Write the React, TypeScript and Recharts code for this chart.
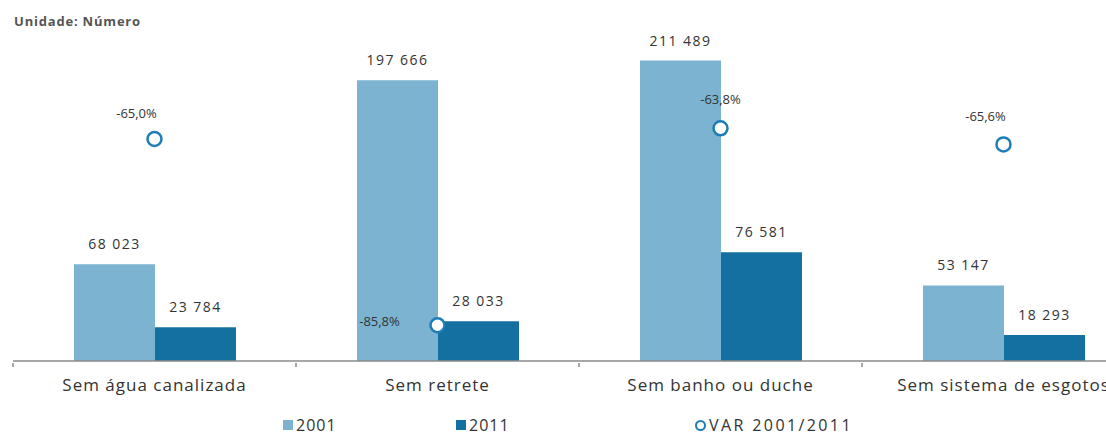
import React from 'react';
import { ComposedChart, Bar, Line, XAxis, YAxis, LabelList, Legend } from 'recharts';

const categories = ['Sem água canalizada', 'Sem retrete', 'Sem banho ou duche', 'Sem sistema de esgotos'];
const values2001 = [68023, 197666, 211489, 53147];
const values2011 = [23784, 28033, 76581, 18293];
const varPct = [-65.0, -85.8, -63.8, -65.6];

const data = categories.map((name, i) => ({
  name,
  y2001: values2001[i],
  y2011: values2011[i],
  varPct: varPct[i],
}));

const C2001 = '#7bb3d0';
const C2011 = '#1570a2';
const CVAR = '#1f7db6';
const TEXT = '#333';
const FONT = '"Open Sans", sans-serif';

const fmtNum = (v: number) => String(v).replace(/\B(?=(\d{3})+(?!\d))/g, ' ');
const fmtPct = (v: number) => v.toFixed(1).replace('.', ',') + '%';

// label placement around each VAR marker
const varLabelShift = [
  { dx: -18, dy: -25 },
  { dx: -58, dy: -3 },
  { dx: 0, dy: -28 },
  { dx: -18, dy: -27 },
];

const CategoryTick = (props: any) => {
  const { x, y, payload, index, visibleTicksCount } = props;
  const half = payload.offset || 0;
  return (
    <g>
      <line x1={x - half} x2={x - half} y1={y} y2={y + 4} stroke="#8a8a8a" strokeWidth={1.5} />
      {index === visibleTicksCount - 1 && (
        <line x1={x + half} x2={x + half} y1={y} y2={y + 4} stroke="#8a8a8a" strokeWidth={1.5} />
      )}
      <text x={x} y={y + 28} textAnchor="middle" fill={TEXT} fontSize={17} letterSpacing={1} fontFamily={FONT}>
        {payload.value}
      </text>
    </g>
  );
};

const VarDot = (props: any) => {
  const { cx, cy } = props;
  if (cx == null || cy == null) return null;
  return <circle cx={cx} cy={cy} r={7} fill="#fff" stroke={CVAR} strokeWidth={2.5} />;
};

const VarLabel = (props: any) => {
  const { x, y, value, index } = props;
  const s = varLabelShift[index] || { dx: 0, dy: -25 };
  return (
    <text x={x + s.dx} y={y + s.dy} textAnchor="middle" dominantBaseline="middle" fill={TEXT} fontSize={13} fontFamily={FONT}>
      {fmtPct(value)}
    </text>
  );
};

const LegendContent = () => (
  <div style={{ position: 'relative', height: 30, fontFamily: FONT, fontSize: 16, lineHeight: '18px', color: TEXT }}>
    <div style={{ position: 'absolute', left: 270, top: 10, display: 'flex', alignItems: 'center' }}>
      <span style={{ width: 10, height: 10, background: C2001, marginRight: 3 }} />
      <span style={{ letterSpacing: 1 }}>2001</span>
    </div>
    <div style={{ position: 'absolute', left: 443, top: 10, display: 'flex', alignItems: 'center' }}>
      <span style={{ width: 10, height: 10, background: C2011, marginRight: 3 }} />
      <span style={{ letterSpacing: 1 }}>2011</span>
    </div>
    <div style={{ position: 'absolute', left: 682, top: 10, display: 'flex', alignItems: 'center' }}>
      <span style={{ width: 7, height: 7, borderRadius: '50%', border: `2px solid ${CVAR}`, marginRight: 3 }} />
      <span style={{ letterSpacing: 2.4 }}>VAR 2001/2011</span>
    </div>
  </div>
);

export default function App() {
  return (
    <div style={{ position: 'absolute', left: 0, top: 0, width: 1106, height: 436, overflow: 'hidden', background: '#fff' }}>
      <div style={{ position: 'absolute', left: 14, top: 12, fontFamily: FONT, fontSize: 13, letterSpacing: 0.8, fontWeight: 700, color: '#555' }}>
        Unidade: Número
      </div>
      <ComposedChart
        width={1160}
        height={436}
        data={data}
        margin={{ top: 20, right: 15, bottom: 0, left: 13 }}
        barGap={0}
      >
        <XAxis
          dataKey="name"
          height={45}
          axisLine={{ stroke: '#8a8a8a', strokeWidth: 1.5 }}
          tickLine={false}
          tickSize={0}
          interval={0}
          tick={<CategoryTick />}
        />
        <YAxis yAxisId="left" hide domain={[0, 240000]} />
        <YAxis yAxisId="right" hide orientation="right" domain={[-89.8, -51.7]} />
        <Legend verticalAlign="bottom" height={30} content={<LegendContent />} />
        <Bar yAxisId="left" dataKey="y2001" name="2001" fill={C2001} barSize={81} isAnimationActive={false}>
          <LabelList dataKey="y2001" position="top" offset={15} formatter={(v: any) => fmtNum(v)} fill={TEXT} fontSize={14} fontFamily={FONT} letterSpacing={1.5} />
        </Bar>
        <Bar yAxisId="left" dataKey="y2011" name="2011" fill={C2011} barSize={81} isAnimationActive={false}>
          <LabelList dataKey="y2011" position="top" offset={15} formatter={(v: any) => fmtNum(v)} fill={TEXT} fontSize={14} fontFamily={FONT} letterSpacing={1.5} />
        </Bar>
        <Line
          yAxisId="right"
          dataKey="varPct"
          name="VAR 2001/2011"
          stroke="none"
          dot={<VarDot />}
          activeDot={false}
          isAnimationActive={false}
        >
          <LabelList dataKey="varPct" content={<VarLabel />} />
        </Line>
      </ComposedChart>
    </div>
  );
}
